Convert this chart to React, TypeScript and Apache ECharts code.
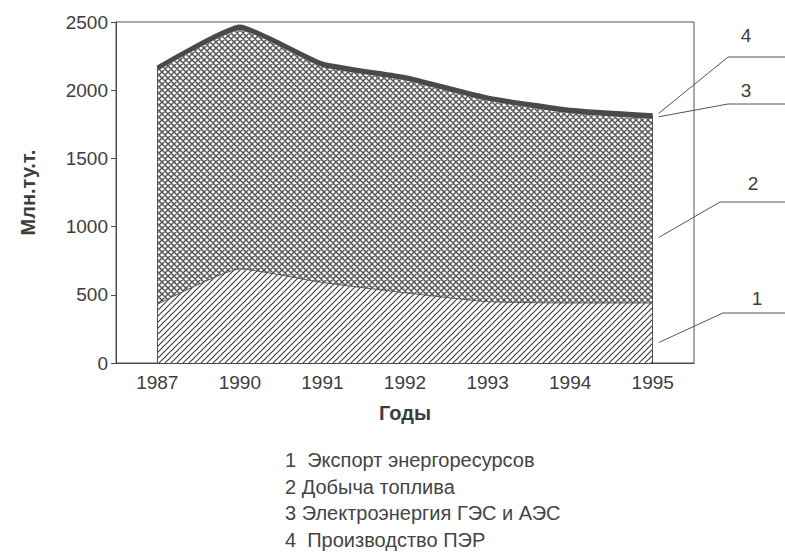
import React, { useEffect, useRef } from 'react';
import * as echarts from 'echarts';

// ---- data ----
const years = ['1987', '1990', '1991', '1992', '1993', '1994', '1995'];
const exportVals = [430, 690, 590, 515, 450, 440, 440];
const fuelVals = [1712, 1750, 1580, 1557, 1472, 1390, 1350];
const electricityVals = [28, 30, 30, 28, 28, 30, 30];
const productionVals = [2170, 2470, 2200, 2100, 1950, 1860, 1820];
const seriesNames = [
  'Экспорт энергоресурсов',
  'Добыча топлива',
  'Электроэнергия ГЭС и АЭС',
  'Производство ПЭР',
];
const legendPrefixes = ['1  ', '2 ', '3 ', '4  '];
const calloutLabels = ['1', '2', '3', '4'];
// values (at 1995) where each callout line touches its layer
const calloutValues = [150, 920, 1805, 1830];
const yMin = 0;
const yMax = 2500;
const yStep = 500;
const yAxisName = 'Млн.ту.т.';
const xAxisName = 'Годы';

const INK = '#3d3d3d';
const FONT = 'Liberation Sans';

function makeTile(kind: 'hatch' | 'cross'): HTMLCanvasElement {
  const s = 6;
  const c = document.createElement('canvas');
  c.width = s;
  c.height = s;
  const g = c.getContext('2d')!;
  g.fillStyle = '#ffffff';
  g.fillRect(0, 0, s, s);
  g.strokeStyle = kind === 'hatch' ? '#3a3a3a' : '#555555';
  g.lineWidth = kind === 'hatch' ? 1.1 : 1.5;
  g.beginPath();
  // "/" direction
  g.moveTo(-1, s + 1);
  g.lineTo(s + 1, -1);
  g.moveTo(-1, 1);
  g.lineTo(1, -1);
  g.moveTo(s - 1, s + 1);
  g.lineTo(s + 1, s - 1);
  if (kind === 'cross') {
    // "\" direction
    g.moveTo(-1, -1);
    g.lineTo(s + 1, s + 1);
    g.moveTo(s - 1, -1);
    g.lineTo(s + 1, 1);
    g.moveTo(-1, s - 1);
    g.lineTo(1, s + 1);
  }
  g.stroke();
  return c;
}

export default function App() {
  const ref = useRef<HTMLDivElement>(null);

  useEffect(() => {
    document.body.style.margin = '0';
    const chart = echarts.init(ref.current!, undefined, { renderer: 'svg' });
    const hatch = makeTile('hatch');
    const cross = makeTile('cross');
    const last = years.length - 1;

    chart.setOption({
      animation: false,
      backgroundColor: '#ffffff',
      grid: {
        left: 116,
        right: 91,
        top: 22,
        bottom: 191,
        show: true,
        borderColor: '#555555',
        borderWidth: 1,
        backgroundColor: 'transparent',
      },
      xAxis: {
        type: 'category',
        data: years,
        boundaryGap: true,
        name: xAxisName,
        nameLocation: 'middle',
        nameGap: 40,
        nameTextStyle: { fontFamily: FONT, fontSize: 20, fontWeight: 'bold', color: INK },
        axisLine: { lineStyle: { color: '#4a4a4a', width: 1 } },
        axisTick: { alignWithLabel: true, length: 6, lineStyle: { color: '#4a4a4a' } },
        axisLabel: { fontFamily: FONT, fontSize: 19, color: INK, margin: 10 },
        splitLine: { show: false },
      },
      yAxis: {
        type: 'value',
        min: yMin,
        max: yMax,
        interval: yStep,
        name: yAxisName,
        nameLocation: 'middle',
        nameGap: 78,
        nameTextStyle: { fontFamily: FONT, fontSize: 20, fontWeight: 'bold', color: INK },
        axisLine: { show: true, lineStyle: { color: '#4a4a4a', width: 1 } },
        axisTick: { show: true, length: 5, lineStyle: { color: '#4a4a4a' } },
        axisLabel: {
          fontFamily: FONT,
          fontSize: 19,
          color: INK,
          margin: 8,
          formatter: (v: number) => String(v),
        },
        splitLine: { show: false },
      },
      series: [
        {
          name: seriesNames[0],
          type: 'line',
          stack: 'total',
          data: exportVals,
          symbol: 'none',
          smooth: 0.15,
          lineStyle: { color: '#555555', width: 1 },
          areaStyle: {
            opacity: 1,
            color: { image: hatch, repeat: 'repeat', imageWidth: 6, imageHeight: 6 },
          },
          z: 3,
        },
        {
          name: seriesNames[1],
          type: 'line',
          stack: 'total',
          data: fuelVals,
          symbol: 'none',
          smooth: 0.15,
          lineStyle: { width: 0 },
          areaStyle: {
            opacity: 1,
            color: { image: cross, repeat: 'repeat', imageWidth: 6, imageHeight: 6 },
          },
          z: 2,
        },
        {
          name: seriesNames[2],
          type: 'line',
          stack: 'total',
          data: electricityVals,
          symbol: 'none',
          smooth: 0.15,
          lineStyle: { width: 0 },
          areaStyle: { opacity: 1, color: '#4a4a4a' },
          z: 2,
        },
        {
          name: seriesNames[3],
          type: 'line',
          data: productionVals,
          symbol: 'none',
          smooth: 0.15,
          lineStyle: { color: '#4a4a4a', width: 3 },
          z: 4,
          markLine: {
            silent: true,
            symbol: 'none',
            label: { show: false },
            lineStyle: { color: '#555555', width: 1, type: 'solid' },
            data: [
              [{ coord: [years[0], 0] }, { coord: [years[0], productionVals[0]] }],
              [{ coord: [years[last], 0] }, { coord: [years[last], productionVals[last]] }],
            ],
          },
        },
      ],
    });

    // callouts on the right + explanation text below
    const elbows = [
      [723, 313],
      [720, 202],
      [728, 104],
      [728, 57],
    ];
    const labelPos = [
      [757, 298],
      [753, 183],
      [746, 90],
      [746, 35],
    ];
    const graphics: any[] = [];
    calloutValues.forEach((v, i) => {
      const p = chart.convertToPixel({ gridIndex: 0 }, [last, v]) as number[];
      graphics.push({
        type: 'polyline',
        silent: true,
        shape: { points: [[p[0] + 6, p[1]], elbows[i], [785, elbows[i][1]]] },
        style: { stroke: '#555555', lineWidth: 1, fill: null },
      });
      graphics.push({
        type: 'text',
        silent: true,
        x: labelPos[i][0],
        y: labelPos[i][1],
        style: {
          text: calloutLabels[i],
          fontFamily: FONT,
          fontSize: 19,
          fill: INK,
          align: 'center',
          verticalAlign: 'middle',
        },
      });
    });
    const rowsY = [460, 487, 513, 540];
    seriesNames.forEach((n, i) => {
      graphics.push({
        type: 'text',
        silent: true,
        x: 285,
        y: rowsY[i],
        style: {
          text: legendPrefixes[i] + n,
          fontFamily: FONT,
          fontSize: 20,
          fill: '#444444',
          align: 'left',
          verticalAlign: 'middle',
        },
      });
    });
    chart.setOption({ graphic: graphics });

    return () => chart.dispose();
  }, []);

  return (
    <div
      ref={ref}
      style={{ position: 'fixed', left: 0, top: 0, width: 785, height: 554 }}
    />
  );
}
